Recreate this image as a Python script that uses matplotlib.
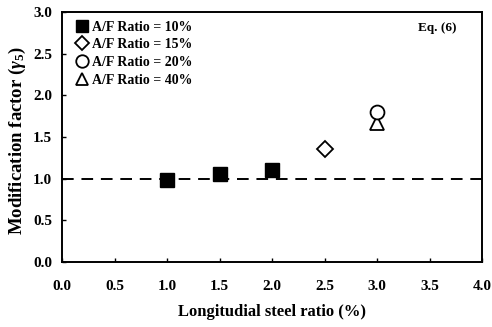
import numpy as np
import matplotlib
matplotlib.use("Agg")
import matplotlib.pyplot as plt

plt.rcParams['font.family'] = ['Liberation Serif', 'DejaVu Serif']
plt.rcParams['font.weight'] = 'bold'
plt.rcParams['mathtext.fontset'] = 'custom'
plt.rcParams['mathtext.rm'] = 'Liberation Serif:bold'
plt.rcParams['mathtext.it'] = 'Liberation Serif:italic:bold'

# data
steel_10 = [1.0, 1.5, 2.0]
gamma_10 = [0.99, 1.06, 1.10]
steel_15 = [2.5]
gamma_15 = [1.36]
steel_20 = [3.0]
gamma_20 = [1.80]
steel_40 = [3.0]
gamma_40 = [1.67]

fig = plt.figure(figsize=(4.92, 3.27), dpi=100)
ax = fig.add_axes([62/492, 1 - 262/327, 420/492, 250/327])

ax.axhline(1.0, color='black', lw=1.4, ls=(0, (6, 4)), zorder=1)

ax.plot(steel_10, gamma_10, 's', color='black', ms=10, label='A/F Ratio = 10%', zorder=3)
ax.plot(steel_15, gamma_15, 'D', mfc='white', mec='black', mew=1.3, ms=8, label='A/F Ratio = 15%', zorder=3)
ax.plot(steel_20, gamma_20, 'o', mfc='white', mec='black', mew=1.3, ms=10, label='A/F Ratio = 20%', zorder=3)
ax.plot(steel_40, gamma_40, '^', mfc='white', mec='black', mew=1.3, ms=10, label='A/F Ratio = 40%', zorder=2)

ax.set_xlim(0, 4)
ax.set_ylim(0, 3)
ax.set_xticks(np.arange(0, 4.01, 0.5))
ax.set_yticks(np.arange(0, 3.01, 0.5))
ax.xaxis.set_major_formatter(plt.FormatStrFormatter('%.1f'))
ax.yaxis.set_major_formatter(plt.FormatStrFormatter('%.1f'))
ax.tick_params(direction='in', length=3, width=1, labelsize=11)
ax.tick_params(axis='x', pad=13)
ax.tick_params(axis='y', pad=7)
for s in ax.spines.values():
    s.set_linewidth(1.4)

ax.set_xlabel('Longitudial steel ratio (%)', fontsize=12, fontweight='bold', labelpad=8)
ax.set_ylabel(r'Modification factor ($\gamma_5$)', fontsize=13.5, fontweight='bold')
ax.yaxis.set_label_coords(-0.08, 0.484)

ax.text(0.893, 0.935, 'Eq. (6)', transform=ax.transAxes, ha='center', va='center', fontsize=9.5, fontweight='bold')

leg = ax.legend(loc='upper left', bbox_to_anchor=(0.035, 0.965), frameon=False, fontsize=10,
                handlelength=0.8, handletextpad=0.3, labelspacing=0.33, borderaxespad=0, borderpad=0)
for h, ms in zip(leg.legend_handles, [9, 7.5, 9, 9]):
    h.set_markersize(ms)

fig.savefig('out.png', dpi=100)
